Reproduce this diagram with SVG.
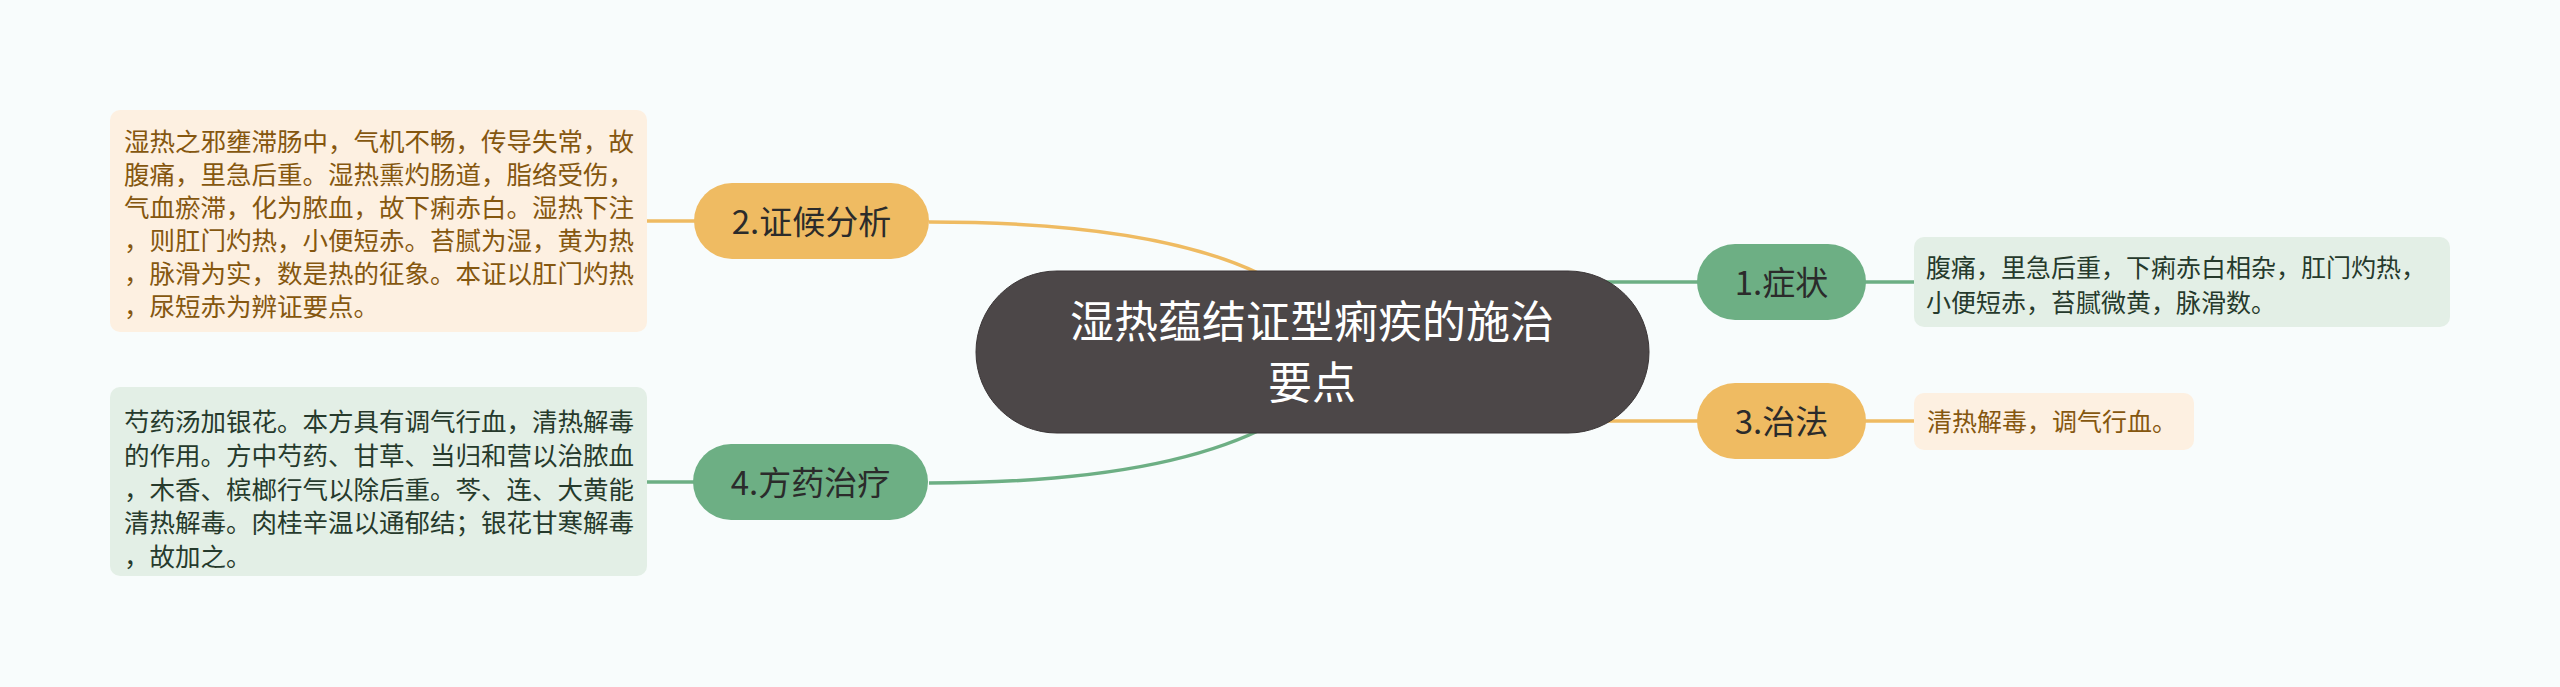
<svg xmlns="http://www.w3.org/2000/svg" width="2560" height="687" viewBox="0 0 2560 687">
<style>
text{font-family:"Noto Sans CJK SC","Noto Sans",sans-serif}
.c{fill:none;stroke-width:3.5}
.o{stroke:#efbb62}
.g{stroke:#6daf84}
.nt{font-size:33px;fill:#2b2b2b;text-anchor:middle}
.dl{font-size:25.5px}
.dr{font-size:25px}
.bo{fill:#fdf0e1}
.bg{fill:#e3efe6}
.to{fill:#85570f}
.tg{fill:#263a2c}
</style>
<rect x="0" y="0" width="2560" height="687" fill="#f8fcfc"/>
<g id="connectors">
<path class="c o" d="M929,222 Q1150,222 1258,273"/>
<path class="c g" d="M929,483 Q1150,483 1260,430"/>
<path class="c g" d="M1600,282 L1698,282"/>
<path class="c o" d="M1600,421 L1698,421"/>
<path class="c o" d="M647,221 L695,221"/>
<path class="c g" d="M647,482 L695,482"/>
<path class="c g" d="M1865,282 L1914,282"/>
<path class="c o" d="M1865,421 L1914,421"/>
</g>
<g id="center">
<rect x="976" y="271" width="673" height="162" rx="81" fill="#4c4748" stroke="#3a3536" stroke-width="1"/>
<text x="1312" y="338" font-size="44" fill="#ffffff" text-anchor="middle">湿热蕴结证型痢疾的施治</text>
<text x="1312" y="399" font-size="44" fill="#ffffff" text-anchor="middle">要点</text>
</g>
<g id="node1">
<rect x="1697" y="244" width="169" height="76" rx="38" fill="#6daf84"/>
<text class="nt" x="1781.5" y="294.5">1.症状</text>
</g>
<g id="node1-detail">
<rect x="1914" y="237" width="536" height="90" rx="10" class="bg"/>
<text class="dr tg" x="1926" y="276.5">腹痛，里急后重，下痢赤白相杂，肛门灼热，</text>
<text class="dr tg" x="1926" y="311.5">小便短赤，苔腻微黄，脉滑数。</text>
</g>
<g id="node2">
<rect x="694" y="183" width="235" height="76" rx="38" fill="#efbb62"/>
<text class="nt" x="811.5" y="233.5">2.证候分析</text>
</g>
<g id="node2-detail">
<rect x="110" y="110" width="537" height="222" rx="10" class="bo"/>
<text class="dl to" x="124" y="151">湿热之邪壅滞肠中，气机不畅，传导失常，故</text>
<text class="dl to" x="124" y="184">腹痛，里急后重。湿热熏灼肠道，脂络受伤，</text>
<text class="dl to" x="124" y="217">气血瘀滞，化为脓血，故下痢赤白。湿热下注</text>
<text class="dl to" x="124" y="250">，则肛门灼热，小便短赤。苔腻为湿，黄为热</text>
<text class="dl to" x="124" y="283">，脉滑为实，数是热的征象。本证以肛门灼热</text>
<text class="dl to" x="124" y="316">，尿短赤为辨证要点。</text>
</g>
<g id="node3">
<rect x="1697" y="383" width="169" height="76" rx="38" fill="#efbb62"/>
<text class="nt" x="1781.5" y="433.5">3.治法</text>
</g>
<g id="node3-detail">
<rect x="1914" y="393" width="280" height="57" rx="10" class="bo"/>
<text class="dr to" x="1927" y="431">清热解毒，调气行血。</text>
</g>
<g id="node4">
<rect x="693" y="444" width="235" height="76" rx="38" fill="#6daf84"/>
<text class="nt" x="810.5" y="495">4.方药治疗</text>
</g>
<g id="node4-detail">
<rect x="110" y="387" width="537" height="189" rx="10" class="bg"/>
<text class="dl tg" x="124" y="431">芍药汤加银花。本方具有调气行血，清热解毒</text>
<text class="dl tg" x="124" y="465">的作用。方中芍药、甘草、当归和营以治脓血</text>
<text class="dl tg" x="124" y="499">，木香、槟榔行气以除后重。芩、连、大黄能</text>
<text class="dl tg" x="124" y="532">清热解毒。肉桂辛温以通郁结；银花甘寒解毒</text>
<text class="dl tg" x="124" y="566">，故加之。</text>
</g>
</svg>
